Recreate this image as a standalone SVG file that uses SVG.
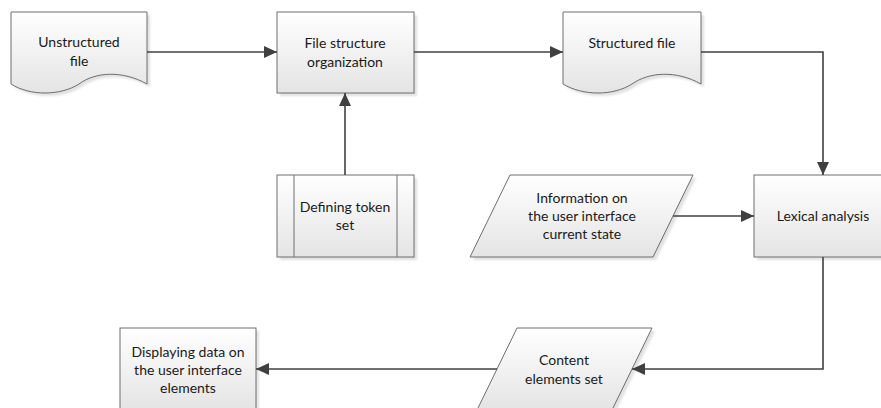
<svg xmlns="http://www.w3.org/2000/svg" width="881" height="408" viewBox="0 0 881 408">
<style>
.shape{fill:url(#g);stroke:#6e6e6e;stroke-width:1}
.shadow{fill:#d4d4d4;opacity:0.7;filter:url(#blur)}
.conn{fill:none;stroke:#404040;stroke-width:1.6;marker-end:url(#arr)}
text{font-family:Lato,"Liberation Sans",sans-serif;font-size:14px;fill:#1a1a1a;text-anchor:middle}
</style>
<defs>
<linearGradient id="g" x1="0" y1="0" x2="0" y2="1">
<stop offset="0" stop-color="#ffffff"/>
<stop offset="1" stop-color="#e4e4e4"/>
</linearGradient>
<filter id="blur" x="-10%" y="-10%" width="120%" height="130%"><feGaussianBlur stdDeviation="1.2"/></filter>
<marker id="arr" markerUnits="userSpaceOnUse" markerWidth="14" markerHeight="12" refX="13" refY="6" orient="auto">
<path d="M0,0 L13,6 L0,12 Z" fill="#404040"/>
</marker>
</defs>
<rect width="881" height="408" fill="#ffffff"/>

<g id="unstructured-file">
<path class="shadow" d="M14,15 H150 V87 C125,73 98,75 82,87 C63,99 33,99 14,87 Z"/>
<path class="shape" d="M11,12 H147 V84 C122,70 95,72 79,84 C60,96 30,96 11,84 Z"/>
<text x="79" y="47">Unstructured</text>
<text x="79" y="66">file</text>
</g>

<g id="file-structure">
<rect class="shadow" x="280" y="15" width="137" height="81"/>
<rect class="shape" x="277" y="12" width="137" height="81"/>
<text x="345" y="48">File structure</text>
<text x="345" y="67">organization</text>
</g>

<g id="structured-file">
<path class="shadow" d="M566,15 H704 V87 C679,73 652,75 635,87 C616,99 586,99 566,87 Z"/>
<path class="shape" d="M563,12 H701 V84 C676,70 649,72 632,84 C613,96 583,96 563,84 Z"/>
<text x="632" y="48">Structured file</text>
</g>

<g id="defining-token-set">
<rect class="shadow" x="280" y="178" width="137" height="82"/>
<rect class="shape" x="277" y="175" width="137" height="82"/>
<line x1="294" y1="175" x2="294" y2="257" stroke="#6e6e6e"/>
<line x1="397" y1="175" x2="397" y2="257" stroke="#6e6e6e"/>
<text x="345" y="212">Defining token</text>
<text x="345" y="230">set</text>
</g>

<g id="ui-state-info">
<path class="shadow" d="M513,178 H696 L656,260 H473 Z"/>
<path class="shape" d="M510,175 H693 L653,257 H470 Z"/>
<text x="582" y="203">Information on</text>
<text x="582" y="221">the user interface</text>
<text x="582" y="239">current state</text>
</g>

<g id="lexical-analysis">
<rect class="shadow" x="757" y="178" width="137" height="82"/>
<rect class="shape" x="754" y="175" width="137" height="82"/>
<text x="823" y="221">Lexical analysis</text>
</g>

<g id="content-elements-set">
<path class="shadow" d="M520,331 H655 L615,413 H480 Z"/>
<path class="shape" d="M517,328 H652 L612,410 H477 Z"/>
<text x="564" y="365">Content</text>
<text x="564" y="384">elements set</text>
</g>

<g id="displaying-data">
<rect class="shadow" x="123" y="331" width="136" height="82"/>
<rect class="shape" x="120" y="328" width="136" height="82"/>
<text x="188" y="357">Displaying data on</text>
<text x="188" y="375">the user interface</text>
<text x="188" y="393">elements</text>
</g>

<g id="connectors">
<path class="conn" d="M147,52 H277"/>
<path class="conn" d="M414,52 H563"/>
<path class="conn" d="M701,52 H823 V175"/>
<path class="conn" d="M345,175 V93"/>
<path class="conn" d="M673,216 H754"/>
<path class="conn" d="M823,257 V369 H632"/>
<path class="conn" d="M497,369 H256"/>
</g>
</svg>
